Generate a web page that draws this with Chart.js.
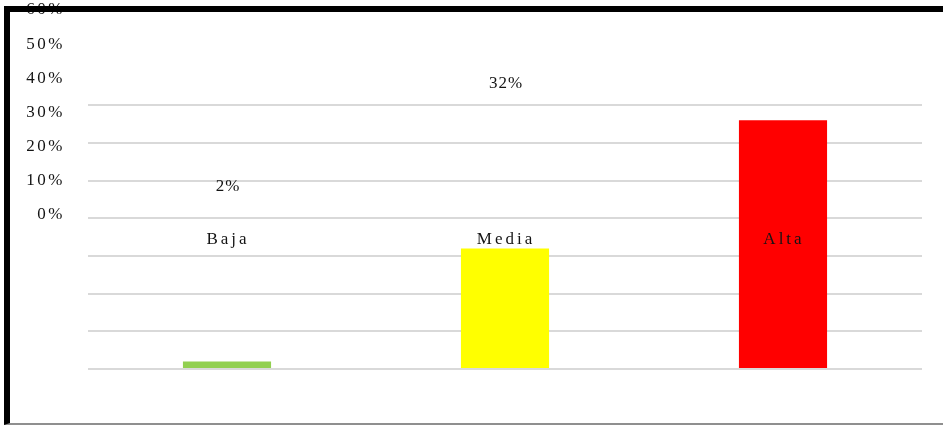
<!DOCTYPE html>
<html>
<head>
<meta charset="utf-8">
<script src="https://cdn.jsdelivr.net/npm/chart.js@4.4.1/dist/chart.umd.min.js"></script>
<style>
  html, body { margin: 0; padding: 0; background: #fff; overflow: hidden; }
  #wrap { position: relative; width: 943px; height: 426px; overflow: hidden; }
  #frame {
    position: absolute; left: 4px; top: 6px; width: 939px; height: 419px;
    box-sizing: border-box;
    border-top: 6px solid #000; border-left: 6px solid #000; border-bottom: 2px solid #8f8f8f;
    border-right: none;
    pointer-events: none;
  }
</style>
</head>
<body>
<div id="wrap">
  <canvas id="myChart" width="943" height="426"></canvas>
  <div id="frame"></div>
</div>
<script>
const categories = ['Baja', 'Media', 'Alta']
const values = [2, 32, 66]
const barColors = ['#92d050', '#ffff00', '#ff0000']
// percent steps written on the left axis
const tickLabels = [0, 10, 20, 30, 40, 50, 60]
// steps that get a horizontal grid line
const gridSteps = [0, 10, 20, 30, 40, 50, 60, 70]

const FONT = { family: "'Liberation Serif', 'Times New Roman', serif", size: 17 }
const TEXT = '#141414'

const isStep = (v, list) => list.some(s => Math.abs(s - v) < 1e-6)

// labels of the text layer: values above each bar, category names under the zero line
const textLayer = {
  id: 'textLayer',
  beforeDraw(chart) {
    chart.ctx.letterSpacing = '2.5px'
  },
  afterDatasetsDraw(chart) {
    const ctx = chart.ctx
    const x = chart.scales.x
    const yl = chart.scales.yl
    ctx.save()
    ctx.font = FONT.size + 'px ' + FONT.family
    ctx.fillStyle = TEXT
    ctx.textAlign = 'center'
    ctx.textBaseline = 'middle'
    values.forEach((v, i) => {
      const cx = x.getPixelForValue(i)
      ctx.letterSpacing = '1px'
      ctx.fillText(v + '%', cx + 1, yl.getPixelForValue(v) - 22)
      ctx.letterSpacing = '3px'
      ctx.fillText(categories[i], cx + 1, yl.getPixelForValue(0) + 25)
    })
    ctx.restore()
  }
}

// keep the axes from reserving room for half a label above and below the plot
const noEdgePadding = s => {
  s.paddingTop = 0
  s.paddingBottom = 0
}

const ctx = document.getElementById('myChart')
const myChart = new Chart(ctx, {
  type: 'bar',
  data: {
    labels: categories,
    datasets: [
      {
        label: 'Porcentaje',
        data: values,
        backgroundColor: barColors,
        borderWidth: 0,
        categoryPercentage: 1,
        barPercentage: 0.317
      }
    ]
  },
  options: {
    responsive: false,
    animation: false,
    maintainAspectRatio: false,
    layout: { padding: { top: 10, bottom: 57, right: 21, left: 0 } },
    plugins: {
      legend: { display: false },
      tooltip: { enabled: false }
    },
    scales: {
      x: {
        display: false
      },
      y: {
        position: 'left',
        min: 0,
        max: 95.3,
        ticks: { display: false, stepSize: 10 },
        border: { display: false },
        grid: { color: '#d9d9d9', lineWidth: 2, drawTicks: false },
        afterBuildTicks: s => { s.ticks = s.ticks.filter(t => isStep(t.value, gridSteps)) },
        afterFit: s => { s.width = 0; noEdgePadding(s) }
      },
      yl: {
        position: 'left',
        min: -45.1,
        max: 60,
        grid: { display: false, drawTicks: false },
        border: { display: false },
        ticks: {
          stepSize: 10,
          padding: 23,
          color: TEXT,
          font: FONT,
          autoSkip: false,
          callback: v => v + '%'
        },
        afterBuildTicks: s => { s.ticks = s.ticks.filter(t => isStep(t.value, tickLabels)) },
        afterFit: s => { s.width = 88; noEdgePadding(s) }
      }
    }
  },
  plugins: [textLayer]
})
</script>
</body>
</html>
